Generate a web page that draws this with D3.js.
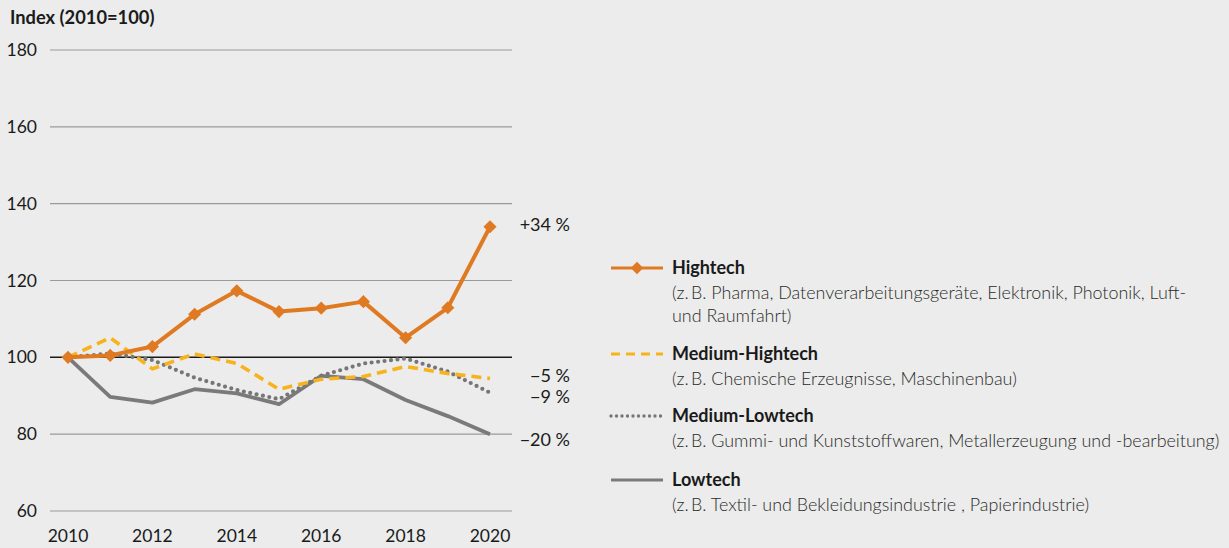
<!DOCTYPE html>
<html>
<head>
<meta charset="utf-8">
<script src="https://cdn.jsdelivr.net/npm/d3@7"></script>
<style>
  html, body { margin: 0; padding: 0; background: #ebeceb; }
  svg { display: block; font-family: "Lato", "Noto Sans", sans-serif; }
</style>
</head>
<body>
<svg id="chart" width="1229" height="548"></svg>
<script>
var years = [2010, 2011, 2012, 2013, 2014, 2015, 2016, 2017, 2018, 2019, 2020],
    hightech = [100, 100.5, 102.8, 111.2, 117.3, 111.9, 112.8, 114.5, 105.1, 112.9, 134],
    mediumHightech = [100, 105.1, 97, 100.9, 98.4, 91.7, 94.3, 95, 97.6, 95.8, 94.5],
    mediumLowtech = [100, 101, 99.3, 94.7, 91.5, 89.1, 95.2, 98.4, 99.7, 96.3, 90.8],
    lowtech = [100, 89.7, 88.2, 91.7, 90.6, 87.8, 95.2, 94.3, 88.9, 84.7, 80],
    yTicks = [60, 80, 100, 120, 140, 160, 180],
    xTicks = [2010, 2012, 2014, 2016, 2018, 2020],
    endLabels = ["+34 %", "\u22125 %", "\u22129 %", "\u221220 %"],
    names = ["Hightech", "Medium-Hightech", "Medium-Lowtech", "Lowtech"],
    notes = [
        ["(z.\u2009B. Pharma, Datenverarbeitungsger\u00e4te, Elektronik, Photonik, Luft-", "und Raumfahrt)"],
        ["(z.\u2009B. Chemische Erzeugnisse, Maschinenbau)"],
        ["(z.\u2009B. Gummi- und Kunststoffwaren, Metallerzeugung und -bearbeitung)"],
        ["(z.\u2009B. Textil- und Bekleidungsindustrie , Papierindustrie)"]
    ];

var svg = d3.select("#chart"),
    x = d3.scaleLinear().domain([2010, 2020]).range([68, 490]),
    y = d3.scaleLinear().domain([60, 180]).range([511, 50]);

var series = [
    { values: hightech, color: "#e07a22", dash: null, width: 4, cap: "butt", marker: true },
    { values: mediumHightech, color: "#f8b21c", dash: "10,6", width: 3.6, cap: "butt" },
    { values: mediumLowtech, color: "#767676", dash: "0,6.5", width: 4.2, cap: "round" },
    { values: lowtech, color: "#7a7a7a", dash: null, width: 3.8, cap: "butt" }
];

svg.append("text")
    .attr("x", 10).attr("y", 24)
    .attr("font-size", 18.3).attr("font-weight", 700).attr("fill", "#1a1a1a")
    .text("Index (2010=100)");

// grid
svg.selectAll(".grid").data(yTicks).enter().append("line")
    .attr("x1", 50).attr("x2", 512)
    .attr("y1", d => y(d)).attr("y2", d => y(d))
    .attr("stroke", d => d === 100 ? "#1a1a1a" : "#9a9a9a")
    .attr("stroke-width", d => d === 100 ? 1.5 : 1.2);

svg.selectAll(".ylab").data(yTicks).enter().append("text")
    .attr("x", 37).attr("y", d => y(d) + 6)
    .attr("text-anchor", "end").attr("font-size", 17.5).attr("fill", "#1a1a1a")
    .text(d => d);

svg.selectAll(".xlab").data(xTicks).enter().append("text")
    .attr("x", d => x(d)).attr("y", 542)
    .attr("text-anchor", "middle").attr("font-size", 17.5).attr("fill", "#1a1a1a")
    .text(d => d);

var line = d3.line().x((d, i) => x(years[i])).y(d => y(d));

// draw back to front
series.slice().reverse().forEach(function (s) {
    svg.append("path")
        .attr("d", line(s.values))
        .attr("fill", "none")
        .attr("stroke", s.color)
        .attr("stroke-width", s.width)
        .attr("stroke-linecap", s.cap)
        .attr("stroke-linejoin", "round")
        .attr("stroke-dasharray", s.dash);
    if (s.marker) {
        svg.selectAll(".mk").data(s.values).enter().append("path")
            .attr("transform", (d, i) => "translate(" + x(years[i]) + "," + y(d) + ")")
            .attr("d", d3.symbol().type(d3.symbolDiamond2).size(110))
            .attr("fill", s.color);
    }
});

// end labels
var endY = [225, 376, 397, 440];
endLabels.forEach(function (t, i) {
    svg.append("text")
        .attr("x", 570).attr("y", endY[i] + 6)
        .attr("text-anchor", "end").attr("font-size", 18).attr("fill", "#1a1a1a")
        .text(t);
});

// legend
var legY = [268, 354, 416, 480];
series.forEach(function (s, i) {
    var g = svg.append("g").attr("transform", "translate(0," + legY[i] + ")");
    g.append("line")
        .attr("x1", 611).attr("x2", 663)
        .attr("y1", 0).attr("y2", 0)
        .attr("stroke", s.color)
        .attr("stroke-width", s.marker ? 2.8 : s.width - 0.8)
        .attr("stroke-linecap", s.cap)
        .attr("stroke-dasharray", s.dash ? (s.cap === "round" ? "0,5.5" : "9,6") : null);
    if (s.marker) {
        g.append("path")
            .attr("transform", "translate(637,0)")
            .attr("d", d3.symbol().type(d3.symbolDiamond2).size(100))
            .attr("fill", s.color);
    }
    g.append("text")
        .attr("x", 672).attr("y", 6)
        .attr("font-size", 18).attr("font-weight", 700).attr("fill", "#1a1a1a")
        .text(names[i]);
    notes[i].forEach(function (n, k) {
        g.append("text")
            .attr("x", 672).attr("y", 31 + k * 23)
            .attr("font-size", 17.9).attr("font-weight", 300).attr("fill", "#2a2a2a")
            .text(n);
    });
});
</script>
</body>
</html>
